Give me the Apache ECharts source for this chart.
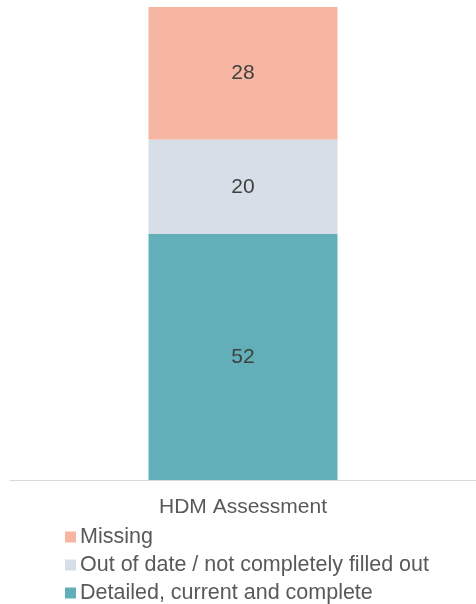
<!DOCTYPE html>
<html>
<head>
<meta charset="utf-8">
<script src="https://cdn.jsdelivr.net/npm/echarts@6/dist/echarts.min.js"></script>
<style>
  html, body { margin: 0; padding: 0; background: #fff; }
  #chart { width: 476px; height: 604px; }
</style>
</head>
<body>
<div id="chart"></div>
<script>
const categories = ['HDM Assessment']
const seriesNames = ['Detailed, current and complete', 'Out of date / not completely filled out', 'Missing']
const detailed = [52]
const outOfDate = [20]
const missing = [28]
const legendOrder = ['Missing', 'Out of date / not completely filled out', 'Detailed, current and complete']

const mychart = echarts.init(document.getElementById('chart'))
const font = 'Liberation Sans, Arial, sans-serif'
const labelStyle = {
  show: true,
  position: 'inside',
  color: '#404040',
  fontSize: 21,
  fontFamily: font
}
let option = {
  animation: false,
  legend: {
    orient: 'vertical',
    left: 65,
    top: 525,
    padding: 0,
    height: 90,
    itemWidth: 11,
    itemHeight: 11,
    itemGap: 4,
    icon: 'rect',
    data: legendOrder,
    textStyle: {
      color: '#595959',
      fontSize: 21.5,
      fontFamily: font,
      lineHeight: 24,
      padding: [0, 0, 0, -1]
    }
  },
  grid: {
    left: 10,
    right: 0,
    top: 7,
    bottom: 124
  },
  xAxis: {
    type: 'category',
    data: categories,
    axisLine: { lineStyle: { color: '#d9d9d9', width: 1 } },
    axisTick: { show: false },
    axisLabel: {
      color: '#595959',
      fontSize: 21,
      fontFamily: font,
      margin: 17
    }
  },
  yAxis: {
    type: 'value',
    min: 0,
    max: 100,
    show: false,
    splitLine: { show: false }
  },
  series: [
    {
      name: seriesNames[0],
      type: 'bar',
      stack: 'total',
      barWidth: 189,
      color: '#63afb9',
      label: labelStyle,
      data: detailed
    },
    {
      name: seriesNames[1],
      type: 'bar',
      stack: 'total',
      color: '#d6dfe8',
      label: labelStyle,
      data: outOfDate
    },
    {
      name: 'Missing',
      type: 'bar',
      stack: 'total',
      color: '#f7b6a1',
      label: labelStyle,
      data: missing
    }
  ]
}
mychart.setOption(option)
window.addEventListener('resize', function () {
  mychart.resize()
})
</script>
</body>
</html>
